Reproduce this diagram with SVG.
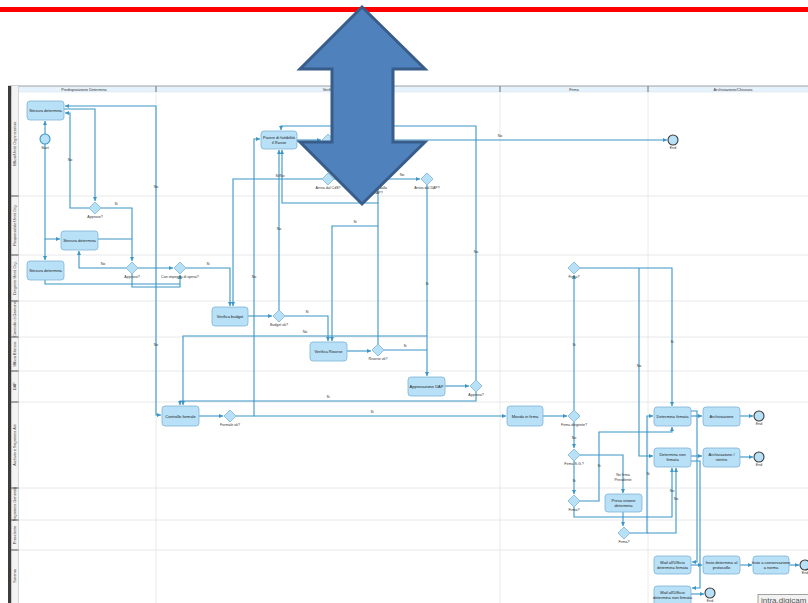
<svg xmlns="http://www.w3.org/2000/svg" width="808" height="603" viewBox="0 0 808 603">
<style>
.lane{stroke:#e2e2e2;stroke-width:0.8}
.col{stroke:#e4e4e4;stroke-width:0.8}
.node rect{fill:#b8e0f6;stroke:#7db4d8;stroke-width:0.8}
.gw polygon{fill:#b8e0f6;stroke:#7db4d8;stroke-width:0.8}
.ev circle{fill:#b8e0f6;stroke:#3a3a3a;stroke-width:1.1}
.st circle{fill:#b8e0f6;stroke:#3b96c6;stroke-width:1.1}
.t{font-family:"Liberation Sans",Arial,sans-serif;font-size:4px;fill:#222;text-anchor:middle}
.s{font-family:"Liberation Sans",Arial,sans-serif;font-size:3.6px;fill:#333;text-anchor:middle}
.h{font-family:"Liberation Sans",Arial,sans-serif;font-size:3.8px;fill:#333;text-anchor:middle}
#connectors path{fill:none;stroke:#3b96c6;stroke-width:1.1}
#connectors path.a{marker-end:url(#ah)}
</style>
<defs>
<marker id="ah" viewBox="0 0 6 6" refX="6" refY="3" markerWidth="4" markerHeight="4" markerUnits="userSpaceOnUse" orient="auto"><path d="M0,0 L6,3 L0,6 z" fill="#3b96c6"/></marker>
</defs>
<rect width="808" height="603" fill="#ffffff"/>
<g id="pool">
<rect x="11" y="86" width="797" height="6" fill="#e6f2fc"/>
<line x1="8" y1="86" x2="808" y2="86" stroke="#8a8a8a" stroke-width="0.8"/>
<line x1="11" y1="92" x2="808" y2="92" stroke="#d6e6f2" stroke-width="0.6"/>
<rect x="8" y="86" width="3.5" height="517" fill="#3c3c3c"/>
<rect x="11.5" y="86" width="7" height="517" fill="#f3f3f3"/>
<line x1="18.5" y1="86" x2="18.5" y2="603" stroke="#bdbdbd" stroke-width="0.6"/>
<line class="col" x1="156" y1="86" x2="156" y2="603"/>
<line class="col" x1="500" y1="86" x2="500" y2="603"/>
<line class="col" x1="648" y1="86" x2="648" y2="603"/>
<line x1="156" y1="86" x2="156" y2="92" stroke="#555" stroke-width="0.8"/>
<line x1="500" y1="86" x2="500" y2="92" stroke="#555" stroke-width="0.8"/>
<line x1="648" y1="86" x2="648" y2="92" stroke="#555" stroke-width="0.8"/>
<text class="h" x="84" y="90.5">Predisposizione Determina</text>
<text class="h" x="330" y="90.5">Verifiche</text>
<text class="h" x="574" y="90.5">Firma</text>
<text class="h" x="733" y="90.5">Archiviazione/Chiusura</text>
<line class="lane" x1="11" y1="196" x2="808" y2="196"/>
<line class="lane" x1="11" y1="255" x2="808" y2="255"/>
<line class="lane" x1="11" y1="301" x2="808" y2="301"/>
<line class="lane" x1="11" y1="337" x2="808" y2="337"/>
<line class="lane" x1="11" y1="371" x2="808" y2="371"/>
<line class="lane" x1="11" y1="402" x2="808" y2="402"/>
<line class="lane" x1="11" y1="488" x2="808" y2="488"/>
<line class="lane" x1="11" y1="520" x2="808" y2="520"/>
<line class="lane" x1="11" y1="550" x2="808" y2="550"/>
<g stroke="#333" stroke-width="0.8">
<line x1="11" y1="196" x2="18.5" y2="196"/><line x1="11" y1="255" x2="18.5" y2="255"/><line x1="11" y1="301" x2="18.5" y2="301"/><line x1="11" y1="337" x2="18.5" y2="337"/><line x1="11" y1="371" x2="18.5" y2="371"/><line x1="11" y1="402" x2="18.5" y2="402"/><line x1="11" y1="488" x2="18.5" y2="488"/><line x1="11" y1="520" x2="18.5" y2="520"/><line x1="11" y1="550" x2="18.5" y2="550"/>
</g>
<text class="h" transform="translate(16.3,144) rotate(-90)">Ufficio/Unità Organizzativa</text>
<text class="h" transform="translate(16.3,225) rotate(-90)">Responsabile Unità Org.</text>
<text class="h" transform="translate(16.3,278) rotate(-90)">Dirigente Unità Org.</text>
<text class="h" transform="translate(16.3,319) rotate(-90)">Controllo di Gestione</text>
<text class="h" transform="translate(16.3,354) rotate(-90)">Ufficio Bilancio</text>
<text class="h" transform="translate(16.3,386) rotate(-90)">DAP</text>
<text class="h" transform="translate(16.3,445) rotate(-90)">Archivio e Segreteria Atti</text>
<text class="h" transform="translate(16.3,504) rotate(-90)">Segreteria Generale</text>
<text class="h" transform="translate(16.3,535) rotate(-90)">Presidente</text>
<text class="h" transform="translate(16.3,576) rotate(-90)">Sistema</text>
</g>
<g id="connectors">
<path class="a" d="M45,134 V121"/>
<path class="a" d="M45,144 V239 H60"/>
<path class="a" d="M45,239 V260"/>
<path class="a" d="M64,109 H95 V201"/>
<path class="a" d="M89,208 H70 V113 H65"/>
<path class="a" d="M101,208 H132 V261"/>
<path d="M98,239 H132"/>
<path class="a" d="M126,268 H79 V251"/>
<path class="a" d="M138,268 H173"/>
<path class="a" d="M132,274 V287 H180 V275"/>
<path d="M45,280 V284 H180"/>
<path class="a" d="M156,268 V106 H65"/>
<path class="a" d="M156,268 V415 H161"/>
<path class="a" d="M186,268 H230 V306"/>
<path class="a" d="M322,179 H233 V306"/>
<path class="a" d="M248,316 H272"/>
<path class="a" d="M279,310 V150"/>
<path class="a" d="M285,316 H328 V341"/>
<path class="a" d="M378,344 V203 H282 V150"/>
<path d="M378,185 V203"/>
<path class="a" d="M378,226 H332 V341"/>
<path class="a" d="M347,351 H371"/>
<path d="M384,350 H427"/>
<path class="a" d="M427,185 V376"/>
<path class="a" d="M427,336 H183 V405"/>
<path class="a" d="M445,386 H469"/>
<path class="a" d="M476,392 V401 H180 V405"/>
<path class="a" d="M476,380 V126 H281 V130"/>
<path class="a" d="M297,140 H321"/>
<path class="a" d="M334,140 H667"/>
<path class="a" d="M328,146 V172"/>
<path class="a" d="M334,179 H371"/>
<path class="a" d="M384,179 H420"/>
<path class="a" d="M199,416 H223"/>
<path class="a" d="M236,416 H254 V139 H260"/>
<path class="a" d="M254,416 H506"/>
<path class="a" d="M543,416 H567"/>
<path class="a" d="M574,410 V275"/>
<path class="a" d="M574,422 V448"/>
<path class="a" d="M580,268 H672 V406"/>
<path class="a" d="M639,268 V456 H653"/>
<path class="a" d="M580,455 H623 V493"/>
<path class="a" d="M574,461 V494"/>
<path class="a" d="M580,501 H599 V432 H672 V427"/>
<path class="a" d="M574,507 V517 H672 V468"/>
<path class="a" d="M623,512 V526"/>
<path class="a" d="M630,533 H647 V416 H653"/>
<path class="a" d="M647,533 H676 V468"/>
<path class="a" d="M691,416 H702"/>
<path class="a" d="M740,416 H753"/>
<path class="a" d="M691,411 H697 V562 H692"/>
<path class="a" d="M691,456 H702"/>
<path class="a" d="M740,457 H753"/>
<path class="a" d="M691,461 H700 V588 H692"/>
<path class="a" d="M691,565 H702"/>
<path class="a" d="M740,565 H752"/>
<path class="a" d="M789,565 H799"/>
<path class="a" d="M691,594 H704"/>
<g class="s">
<text x="70" y="161">No</text>
<text x="116" y="205">Si</text>
<text x="103" y="265">No</text>
<text x="156" y="188">No</text>
<text x="156" y="346">No</text>
<text x="208" y="265">Si</text>
<text x="280" y="177">Si/No</text>
<text x="279" y="230">No</text>
<text x="307" y="313">Si</text>
<text x="355" y="223">Si</text>
<text x="405" y="347">Si</text>
<text x="427" y="285">Si</text>
<text x="305" y="333">No</text>
<text x="328" y="398">Si</text>
<text x="476" y="253">No</text>
<text x="500" y="137">No</text>
<text x="402" y="176">No</text>
<text x="254" y="278">No</text>
<text x="372" y="413">Si</text>
<text x="574" y="346">Si</text>
<text x="574" y="439">No</text>
<text x="672" y="343">Si</text>
<text x="639" y="367">No</text>
<text x="623" y="476">No firma</text>
<text x="623" y="481">Presidente</text>
<text x="574" y="482">Si</text>
<text x="599" y="467">Si</text>
<text x="672" y="492">No</text>
<text x="648" y="475">Si</text>
<text x="676" y="500">No</text>
</g>
</g>
<g id="start" class="st"><circle cx="45" cy="139" r="5"/><text class="s" x="45" y="148.5">Start</text></g>
<g id="n_stesura1" class="node"><rect x="27" y="101" width="37" height="19" rx="3"/><text class="t" x="45.5" y="112">Stesura determina</text></g>
<g id="n_stesura2" class="node"><rect x="61" y="231" width="37" height="19" rx="3"/><text class="t" x="79.5" y="242">Stesura determina</text></g>
<g id="n_stesura3" class="node"><rect x="27" y="261" width="37" height="19" rx="3"/><text class="t" x="45.5" y="272">Stesura determina</text></g>
<g id="n_parere" class="node"><rect x="261" y="131" width="36" height="18" rx="3"/><text class="t" x="279" y="139">Parere di fattibilità</text><text class="t" x="279" y="144">il Rasse</text></g>
<g id="n_budget" class="node"><rect x="212" y="307" width="36" height="19" rx="3"/><text class="t" x="230" y="318">Verifica budget</text></g>
<g id="n_risorse" class="node"><rect x="310" y="342" width="37" height="19" rx="3"/><text class="t" x="328.5" y="353">Verifica Risorse</text></g>
<g id="n_dap" class="node"><rect x="408" y="377" width="37" height="19" rx="3"/><text class="t" x="426.5" y="388">Approvazione DAP</text></g>
<g id="n_formale" class="node"><rect x="162" y="406" width="37" height="20" rx="3"/><text class="t" x="180.5" y="417.5">Controllo formale</text></g>
<g id="n_manda" class="node"><rect x="507" y="406" width="36" height="20" rx="3"/><text class="t" x="525" y="417.5">Manda in firma</text></g>
<g id="n_detfirm" class="node"><rect x="654" y="407" width="37" height="19" rx="3"/><text class="t" x="672.5" y="418">Determina firmata</text></g>
<g id="n_arch" class="node"><rect x="703" y="407" width="37" height="19" rx="3"/><text class="t" x="721.5" y="418">Archiviazione</text></g>
<g id="n_detnon" class="node"><rect x="654" y="448" width="37" height="19" rx="3"/><text class="t" x="672.5" y="456">Determina non</text><text class="t" x="672.5" y="461">firmata</text></g>
<g id="n_archri" class="node"><rect x="703" y="448" width="37" height="19" rx="3"/><text class="t" x="721.5" y="456">Archiviazione /</text><text class="t" x="721.5" y="461">rientro</text></g>
<g id="n_presa" class="node"><rect x="605" y="494" width="37" height="18" rx="3"/><text class="t" x="623.5" y="502">Presa visione</text><text class="t" x="623.5" y="507">determina</text></g>
<g id="n_mailf" class="node"><rect x="654" y="556" width="37" height="18" rx="3"/><text class="t" x="672.5" y="564">Mail all'Ufficio</text><text class="t" x="672.5" y="569">determina firmata</text></g>
<g id="n_prot" class="node"><rect x="703" y="556" width="37" height="18" rx="3"/><text class="t" x="721.5" y="564">Invio determina al</text><text class="t" x="721.5" y="569">protocollo</text></g>
<g id="n_cons" class="node"><rect x="753" y="556" width="36" height="18" rx="3"/><text class="t" x="771" y="564">Invio a conservazione</text><text class="t" x="771" y="569">a norma</text></g>
<g id="n_mailnf" class="node"><rect x="654" y="586" width="37" height="20" rx="3"/><text class="t" x="672.5" y="594">Mail all'Ufficio</text><text class="t" x="672.5" y="599">determina non firmata</text></g>
<g id="g_approvo1" class="gw"><polygon points="95,202 101,208 95,214 89,208"/><text class="s" x="95" y="218">Approvo?</text></g>
<g id="g_approvo3" class="gw"><polygon points="132,262 138,268 132,274 126,268"/><text class="s" x="132" y="278">Approvo?</text></g>
<g id="g_impegno" class="gw"><polygon points="180,262 186,268 180,274 174,268"/><text class="s" x="180" y="278">Con impegno di spesa?</text></g>
<g id="g_parere" class="gw"><polygon points="328,134 334,140 328,146 322,140"/></g>
<g id="g_cds" class="gw"><polygon points="328,173 334,179 328,185 322,179"/><text class="s" x="328" y="189">Arriva dal CdS?</text></g>
<g id="g_dalla" class="gw"><polygon points="378,173 384,179 378,185 372,179"/><text class="s" x="378" y="189">Arriva dalla</text><text class="s" x="378" y="194">DAP?</text></g>
<g id="g_dap" class="gw"><polygon points="427,173 433,179 427,185 421,179"/><text class="s" x="427" y="189">Arriva dal DAP?</text></g>
<g id="g_budget" class="gw"><polygon points="279,310 285,316 279,322 273,316"/><text class="s" x="279" y="326">Budget ok?</text></g>
<g id="g_risorse" class="gw"><polygon points="378,344 384,350 378,356 372,350"/><text class="s" x="378" y="360">Risorse ok?</text></g>
<g id="g_approva" class="gw"><polygon points="476,380 482,386 476,392 470,386"/><text class="s" x="476" y="396">Approva?</text></g>
<g id="g_formale" class="gw"><polygon points="230,410 236,416 230,422 224,416"/><text class="s" x="230" y="426">Formale ok?</text></g>
<g id="g_firmadir" class="gw"><polygon points="574,410 580,416 574,422 568,416"/><text class="s" x="574" y="426">Firma dirigente?</text></g>
<g id="g_firma3" class="gw"><polygon points="574,262 580,268 574,274 568,268"/><text class="s" x="574" y="278">Firma?</text></g>
<g id="g_firmasg" class="gw"><polygon points="574,449 580,455 574,461 568,455"/><text class="s" x="574" y="465">Firma S.G.?</text></g>
<g id="g_firma8" class="gw"><polygon points="574,495 580,501 574,507 568,501"/><text class="s" x="574" y="511">Firma?</text></g>
<g id="g_firma9" class="gw"><polygon points="624,527 630,533 624,539 618,533"/><text class="s" x="624" y="543">Firma?</text></g>
<g id="e_end1" class="ev"><circle cx="673" cy="140" r="5"/><text class="s" x="673" y="149">End</text></g>
<g id="e_end2" class="ev"><circle cx="759" cy="416" r="5"/><text class="s" x="759" y="425">End</text></g>
<g id="e_end3" class="ev"><circle cx="759" cy="457" r="5"/><text class="s" x="759" y="466">End</text></g>
<g id="e_end4" class="ev"><circle cx="805" cy="565" r="5"/><text class="s" x="805" y="574">End</text></g>
<g id="e_end5" class="ev"><circle cx="710" cy="593" r="5"/><text class="s" x="710" y="602">End</text></g>
<g id="tooltip"><rect x="758" y="594.5" width="52" height="10" fill="#f2f2f2" stroke="#8c8c8c" stroke-width="0.8"/><text x="761" y="602.5" font-family="Liberation Sans, Arial, sans-serif" font-size="8" fill="#555">intra.digicam</text></g>
<line x1="0" y1="9.5" x2="808" y2="9.5" stroke="#ff0000" stroke-width="5"/>
<g id="bigarrow"><polygon points="362,7 425,69 393,69 393,142 425,142 362,204 300,142 332,142 332,69 300,69" fill="#4f81bd" stroke="#385d8a" stroke-width="3" stroke-linejoin="miter"/></g>
</svg>
